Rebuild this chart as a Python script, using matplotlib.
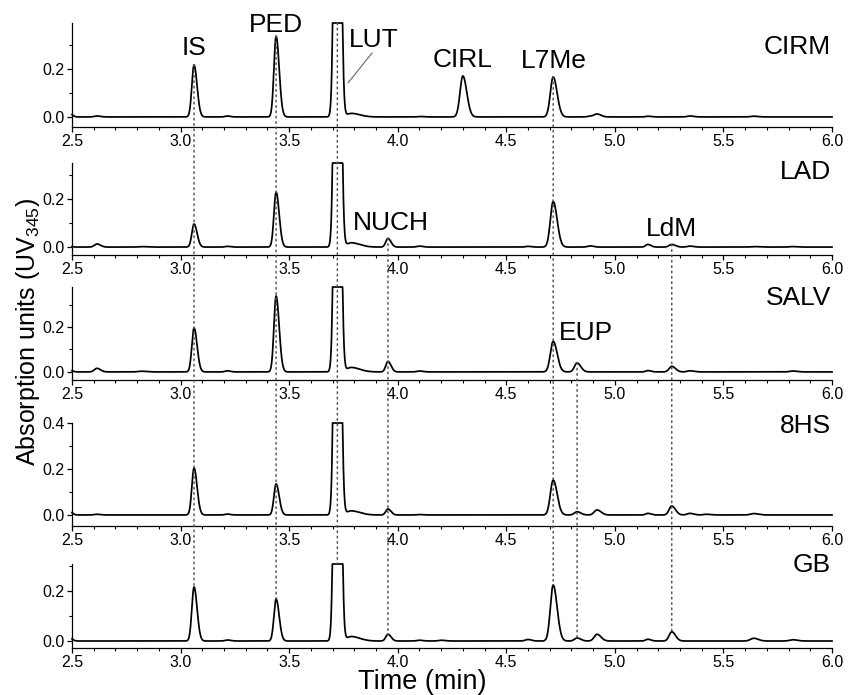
import numpy as np
import matplotlib
matplotlib.use("Agg")
import matplotlib.pyplot as plt
from matplotlib.patches import ConnectionPatch
from matplotlib.ticker import MultipleLocator, FormatStrFormatter

plt.rcParams['font.family'] = ['Liberation Sans', 'DejaVu Sans']
plt.rcParams['mathtext.default'] = 'regular'

# ---- data: peak table (retention time in min) ----
peak_rt = [2.49, 2.615, 2.82, 3.062, 3.215, 3.44, 3.722, 3.785, 3.955, 4.10, 4.20,
           4.30, 4.60, 4.716, 4.826, 4.886, 4.918, 5.152, 5.262, 5.345, 5.42, 5.64, 5.82]
sigma_left = [0.012, 0.012, 0.015, 0.010, 0.010, 0.010, 0.011, 0.020, 0.010, 0.012, 0.012,
              0.013, 0.012, 0.013, 0.012, 0.012, 0.013, 0.010, 0.012, 0.012, 0.012, 0.015, 0.015]
sigma_right = [0.012, 0.016, 0.020, 0.014, 0.014, 0.014, 0.012, 0.040, 0.014, 0.016, 0.016,
               0.018, 0.016, 0.018, 0.017, 0.016, 0.018, 0.014, 0.017, 0.018, 0.018, 0.020, 0.020]

h_cirm = [0.014, 0.004, 0.0, 0.217, 0.004, 0.337, 3.0, 0.015, 0.0, 0.002, 0.0,
          0.171, 0.0, 0.167, 0.0, 0.003, 0.012, 0.003, 0.0, 0.004, 0.0, 0.003, 0.0]
h_lad = [0.003, 0.013, 0.002, 0.096, 0.003, 0.229, 3.0, 0.018, 0.036, 0.004, 0.0,
         0.0, 0.003, 0.190, 0.0, 0.005, 0.0, 0.011, 0.011, 0.004, 0.0, 0.002, 0.002]
h_salv = [0.008, 0.016, 0.003, 0.196, 0.005, 0.338, 3.0, 0.020, 0.047, 0.004, 0.0,
          0.0, 0.0, 0.136, 0.040, 0.0, 0.0, 0.006, 0.025, 0.005, 0.0, 0.0, 0.004]
h_8hs = [0.014, 0.003, 0.0, 0.204, 0.004, 0.135, 3.0, 0.018, 0.026, 0.002, 0.0,
         0.0, 0.0, 0.152, 0.014, 0.0, 0.022, 0.007, 0.039, 0.007, 0.003, 0.006, 0.0]
h_gb = [0.012, 0.0, 0.0, 0.216, 0.004, 0.168, 3.0, 0.018, 0.027, 0.003, 0.003,
        0.0, 0.006, 0.224, 0.012, 0.0, 0.027, 0.007, 0.037, 0.0, 0.0, 0.011, 0.005]

samples = ['CIRM', 'LAD', 'SALV', '8HS', 'GB']
heights = [h_cirm, h_lad, h_salv, h_8hs, h_gb]
ylims = [(-0.042, 0.392), (-0.033, 0.350), (-0.036, 0.378), (-0.048, 0.400), (-0.028, 0.308)]
sample_label_y = [0.262, 0.283, 0.298, 0.357, 0.276]

# compound annotations: (panel, text, x, y)
compound_panel = [0, 0, 0, 0, 0, 1, 1, 2]
compound_text = ['IS', 'PED', 'LUT', 'CIRL', 'L7Me', 'NUCH', 'LdM', 'EUP']
compound_x = [3.06, 3.44, 3.89, 4.30, 4.72, 3.97, 5.26, 4.865]
compound_y = [0.258, 0.354, 0.290, 0.210, 0.204, 0.070, 0.046, 0.142]

# dotted reference lines: retention time and panel where they begin
marker_rt = [3.062, 3.44, 3.722, 3.955, 4.716, 4.826, 5.262]
marker_start = [0, 0, 0, 1, 0, 2, 1]

# axes placement (figure pixels, top/bottom of each panel)
W, H = 856, 695
panel_px = [(23, 127), (163, 255), (287, 380), (423, 526), (564, 648)]
left_px, right_px = 72, 832

t = np.linspace(2.5, 6.0, 3501)


def chromatogram(hs):
    y = np.zeros_like(t)
    for rt, h, sl, sr in zip(peak_rt, hs, sigma_left, sigma_right):
        s = np.where(t < rt, sl, sr)
        y += h * np.exp(-0.5 * ((t - rt) / s) ** 2)
    return y


fig = plt.figure(figsize=(W / 100, H / 100), dpi=100)
axes = []
curves = []
for i, (name, hs) in enumerate(zip(samples, heights)):
    top, bot = panel_px[i]
    ax = fig.add_axes([left_px / W, 1 - bot / H, (right_px - left_px) / W, (bot - top) / H])
    lo, hi = ylims[i]
    y = np.minimum(chromatogram(hs), hi)
    curves.append(y)
    ax.plot(t, y, color='black', lw=1.25, clip_on=False, zorder=3)
    ax.set_xlim(2.5, 6.0)
    ax.set_ylim(lo, hi)
    for sp in ['top', 'right']:
        ax.spines[sp].set_visible(False)
    for sp in ['left', 'bottom']:
        ax.spines[sp].set_linewidth(0.9)
    ax.xaxis.set_major_locator(MultipleLocator(0.5))
    ax.xaxis.set_minor_locator(MultipleLocator(0.1))
    ax.yaxis.set_major_locator(MultipleLocator(0.2))
    ax.yaxis.set_minor_locator(MultipleLocator(0.1))
    ax.xaxis.set_major_formatter(FormatStrFormatter('%.1f'))
    ax.yaxis.set_major_formatter(FormatStrFormatter('%.1f'))
    ax.tick_params(which='major', length=3.6, width=0.9, labelsize=11.5, pad=1.5, direction='out')
    ax.tick_params(which='minor', length=2.0, width=0.8, direction='out')
    ax.patch.set_alpha(0)
    ax.text(5.995, sample_label_y[i], name, ha='right', va='baseline', fontsize=19)
    axes.append(ax)

for p, txt, x, yv in zip(compound_panel, compound_text, compound_x, compound_y):
    axes[p].text(x, yv, txt, ha='center', va='baseline', fontsize=19)

# leader line for LUT
axes[0].plot([3.771, 3.882], [0.142, 0.267], color='#555555', lw=0.7)

# dotted vertical lines linking peaks across chromatograms
for rt, sp in zip(marker_rt, marker_start):
    y_start = np.interp(rt, t, curves[sp])
    y_end = np.interp(rt, t, curves[-1])
    con = ConnectionPatch(xyA=(rt, y_start), coordsA=axes[sp].transData,
                          xyB=(rt, y_end), coordsB=axes[-1].transData,
                          linestyle=(0, (1, 2.5)), color='#555555', lw=1.1, zorder=1)
    fig.add_artist(con)

fig.text(28 / W, 1 - 332 / H, 'Absorption units (UV$_{345}$)', rotation=90,
         ha='center', va='center', fontsize=18)
fig.text(422 / W, 1 - 682 / H, 'Time (min)', ha='center', va='center', fontsize=19.5)

fig.savefig('out.png', dpi=100)
